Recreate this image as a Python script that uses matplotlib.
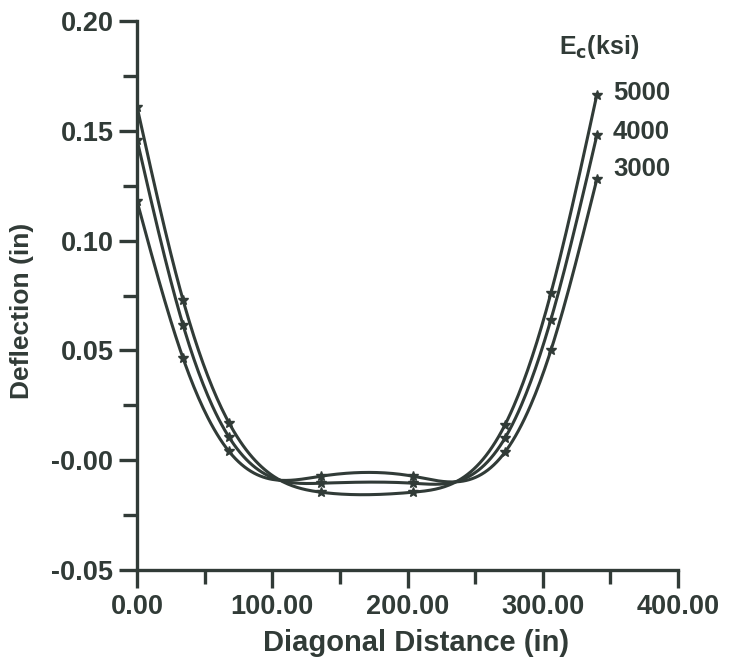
import numpy as np
import matplotlib
matplotlib.use("Agg")
import matplotlib.pyplot as plt

# data
x_pts = [0, 34, 68, 136, 204, 272, 306, 340]
ec_labels = ["5000", "4000", "3000"]
defl_5000 = [0.161, 0.073, 0.017, -0.0146, -0.0146, 0.016, 0.076, 0.1665]
defl_4000 = [0.146, 0.0616, 0.0105, -0.0105, -0.0105, 0.010, 0.064, 0.148]
defl_3000 = [0.118, 0.0465, 0.004, -0.0073, -0.0073, 0.0036, 0.050, 0.128]

x_ticks = [0, 100, 200, 300, 400]
x_ticklabels = ["0.00", "100.00", "200.00", "300.00", "400.00"]
y_ticks = [-0.05, 0.0, 0.05, 0.10, 0.15, 0.20]
y_ticklabels = ["-0.05", "-0.00", "0.05", "0.10", "0.15", "0.20"]

ink = "#313b37"
plt.rcParams["font.family"] = ["Liberation Sans", "DejaVu Sans"]
plt.rcParams["font.weight"] = "bold"


def natural_spline(x, y, n=300):
    # smooth curve through the read points
    x = np.asarray(x, float)
    y = np.asarray(y, float)
    h = np.diff(x)
    m = len(x)
    A = np.zeros((m, m))
    b = np.zeros(m)
    A[0, 0] = A[-1, -1] = 1
    for i in range(1, m - 1):
        A[i, i - 1] = h[i - 1]
        A[i, i] = 2 * (h[i - 1] + h[i])
        A[i, i + 1] = h[i]
        b[i] = 6 * ((y[i + 1] - y[i]) / h[i] - (y[i] - y[i - 1]) / h[i - 1])
    M = np.linalg.solve(A, b)
    xs = np.linspace(x[0], x[-1], n)
    idx = np.clip(np.searchsorted(x, xs) - 1, 0, m - 2)
    x0, x1 = x[idx], x[idx + 1]
    hh = x1 - x0
    t0, t1 = x1 - xs, xs - x0
    ys = (M[idx] * t0 ** 3 + M[idx + 1] * t1 ** 3) / (6 * hh) \
        + (y[idx] / hh - M[idx] * hh / 6) * t0 \
        + (y[idx + 1] / hh - M[idx + 1] * hh / 6) * t1
    return xs, ys


fig = plt.figure(figsize=(7.29, 6.65), dpi=100)
ax = fig.add_axes([0.188, 0.143, 0.742, 0.825])

series = [defl_5000, defl_4000, defl_3000]
for yy in series:
    xs, ys = natural_spline(x_pts, yy)
    ax.plot(xs, ys, color=ink, lw=2.2)
    ax.plot(x_pts, yy, ls="none", marker="*", ms=7, color=ink)

ax.set_xlim(0, 400)
ax.set_ylim(-0.05, 0.20)
ax.spines["top"].set_visible(False)
ax.spines["right"].set_visible(False)
for s in ("left", "bottom"):
    ax.spines[s].set_color(ink)
    ax.spines[s].set_linewidth(2.4)

ax.set_xticks(x_ticks)
ax.set_xticklabels(x_ticklabels)
ax.set_yticks(y_ticks)
ax.set_yticklabels(y_ticklabels)
ax.set_xticks([50, 150, 250, 350], minor=True)
ax.set_yticks([-0.025, 0.025, 0.075, 0.125, 0.175], minor=True)
ax.tick_params(which="major", length=13, width=2.4, color=ink, labelcolor=ink,
               labelsize=19.5, pad=4)
ax.tick_params(which="minor", length=10, width=2.4, color=ink)
for lab in ax.get_xticklabels() + ax.get_yticklabels():
    lab.set_fontweight("bold")

ax.set_xlabel("Diagonal Distance (in)", fontsize=21, fontweight="bold",
              color=ink)
ax.set_ylabel("Deflection (in)", fontsize=19, fontweight="bold", color=ink)
ax.xaxis.set_label_coords(0.516, -0.108)
ax.yaxis.set_label_coords(-0.19, 0.472)

# curve labels at the right end
label_y = [0.1672, 0.1497, 0.1327]
for lab, yy in zip(ec_labels, label_y):
    ax.text(352, yy, lab, fontsize=18.5, fontweight="bold", color=ink,
            va="center")
ax.text(312, 0.1885, r"E$_\mathbf{c}$(ksi)", fontsize=18, fontweight="bold",
        color=ink, va="center")

fig.savefig("out.png", dpi=100)
